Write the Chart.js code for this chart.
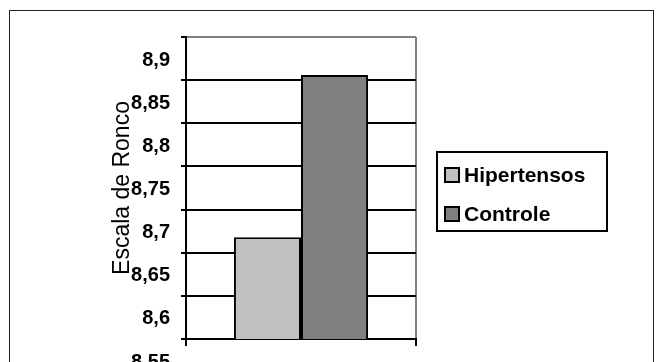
<!DOCTYPE html>
<html>
<head>
<meta charset="utf-8">
<script src="https://cdn.jsdelivr.net/npm/chart.js@4/dist/chart.umd.min.js"></script>
<style>
  html, body { margin: 0; padding: 0; background: #fff; overflow: hidden; }
  #wrap { position: relative; width: 659px; height: 362px; }
  #frame { position: absolute; left: 9px; top: 10px; width: 643px; height: 400px; border: 1px solid #222; }
  #legend {
    position: absolute; left: 436px; top: 151px; width: 168px; height: 77px;
    border: 2px solid #000; font-family: "Liberation Sans", Arial, sans-serif;
    font-weight: bold; font-size: 21px; color: #000;
  }
  .item { position: absolute; left: 6px; height: 22px; line-height: 22px; white-space: nowrap; }
  .sw { display: inline-block; width: 12px; height: 12px; border: 2px solid #000; vertical-align: -1px; margin-right: 4px; }
</style>
</head>
<body>
<div id="wrap">
  <div id="frame"></div>
  <canvas id="chart" width="659" height="362"></canvas>
  <div id="legend"></div>
</div>
<script>
const categories = [''];
const seriesNames = ['Hipertensos', 'Controle'];
const seriesValues = [[8.668], [8.856]];
const seriesColors = ['#c0c0c0', '#808080'];
const yTickLabels = ['8,55', '8,6', '8,65', '8,7', '8,75', '8,8', '8,85', '8,9'];

const ctx = document.getElementById('chart').getContext('2d');
Chart.defaults.font.family = '"Liberation Sans", Arial, sans-serif';
Chart.defaults.color = '#000';

new Chart(ctx, {
    type: 'bar',
    data: {
        labels: categories,
        datasets: seriesNames.map((name, i) => ({
            label: name,
            data: seriesValues[i],
            backgroundColor: seriesColors[i],
            borderColor: '#000',
            borderWidth: 2,
            categoryPercentage: 0.583,
            barPercentage: 1
        }))
    },
    options: {
        responsive: false,
        animation: false,
        layout: {
            padding: { left: 109, top: 37, right: 243, bottom: 0 }
        },
        scales: {
            x: {
                ticks: { display: false },
                grid: {
                    color: c => c.index === 0 ? '#000' : '#808080',
                    tickColor: '#000',
                    lineWidth: 2,
                    tickLength: 7
                },
                border: { color: '#000', width: 2 },
                afterFit: s => { s.height = 19; }
            },
            y: {
                min: 8.55,
                max: 8.9,
                title: {
                    display: true,
                    text: 'Escala de Ronco',
                    font: { size: 23 },
                    padding: 0
                },
                ticks: {
                    stepSize: 0.05,
                    padding: 11,
                    labelOffset: 23,
                    font: { size: 20, weight: 'bold' },
                    callback: (v, i) => yTickLabels[i]
                },
                grid: {
                    color: c => c.index === yTickLabels.length - 1 ? '#808080' : '#000',
                    tickColor: '#000',
                    lineWidth: 2,
                    tickLength: 5
                },
                border: { color: '#000', width: 2 },
                afterFit: s => { s.width = 77; }
            }
        },
        plugins: {
            legend: { display: false },
            tooltip: { enabled: false }
        }
    }
});

const legend = document.getElementById('legend');
seriesNames.forEach((name, i) => {
    const item = document.createElement('div');
    item.className = 'item';
    item.style.top = (11 + i * 39) + 'px';
    item.innerHTML = '<span class="sw" style="background:' + seriesColors[i] + '"></span>' + name;
    legend.appendChild(item);
});
</script>
</body>
</html>
